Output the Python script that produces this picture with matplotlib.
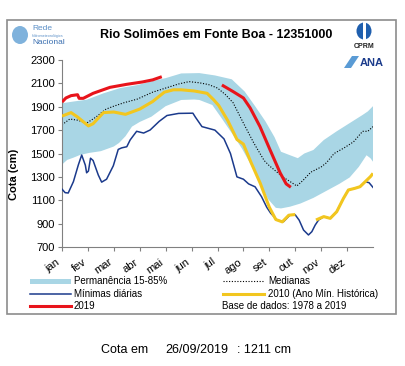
import numpy as np
import matplotlib
matplotlib.use("Agg")
import matplotlib.pyplot as plt
from matplotlib.patches import Rectangle, Ellipse, Polygon
from matplotlib.lines import Line2D

plt.rcParams['font.family'] = ['Liberation Sans', 'DejaVu Sans']

# ---------------- data (x in months since 1 Jan) ----------------
months = ['jan', 'fev', 'mar', 'abr', 'mai', 'jun', 'jul', 'ago', 'set', 'out', 'nov', 'dez']
yticks = [700, 900, 1100, 1300, 1500, 1700, 1900, 2100, 2300]

band_up_x = [0, 0.45, 0.95, 1.6, 2.25, 2.9, 3.5, 4.0, 4.6, 5.3, 5.9, 6.55, 7.05, 7.45,
             7.85, 8.2, 8.45, 8.8, 9.1, 9.35, 9.7, 10.1, 10.6, 11.1, 11.6, 11.8, 12.0]
band_up_y = [1930, 1945, 1960, 2015, 2060, 2085, 2120, 2145, 2185, 2188, 2168, 2135, 2030, 1905,
             1775, 1640, 1515, 1485, 1460, 1500, 1530, 1615, 1690, 1760, 1830, 1860, 1905]
band_lo_x = [0, 0.2, 0.45, 0.7, 1.05, 1.5, 2.0, 2.2, 2.45, 2.7, 3.0, 3.45, 4.0, 4.6, 5.1, 5.3,
             5.8, 6.15, 6.55, 6.95, 7.3, 7.7, 7.95, 8.25, 8.45, 8.8, 9.2, 9.7, 10.2, 10.7,
             11.1, 11.45, 11.75, 11.9, 12.0]
band_lo_y = [1405, 1445, 1465, 1488, 1505, 1520, 1560, 1590, 1648, 1730, 1770, 1815, 1905, 1958,
             1962, 1958, 1915, 1805, 1675, 1540, 1400, 1225, 1110, 1035, 1030, 1045, 1072, 1120,
             1180, 1240, 1295, 1385, 1485, 1460, 1430]

med_x = [0, 0.3, 0.6, 0.95, 1.3, 1.7, 2.0, 2.4, 2.9, 3.5, 4.0, 4.5, 4.9, 5.3, 5.65, 6.0, 6.3,
         6.6, 7.0, 7.4, 7.8, 8.0, 8.3, 8.55, 8.8, 9.06, 9.3, 9.6, 10.0, 10.2, 10.5, 10.9,
         11.25, 11.6, 11.8, 12.0]
med_y = [1745, 1795, 1785, 1760, 1810, 1880, 1905, 1935, 1965, 2025, 2060, 2095, 2115, 2105,
         2090, 2060, 2005, 1935, 1760, 1590, 1440, 1395, 1340, 1295, 1260, 1222, 1270, 1340,
         1385, 1420, 1500, 1550, 1600, 1690, 1690, 1730]

min_x = [0, 0.12, 0.24, 0.44, 0.63, 0.76, 0.9, 0.95, 1.02, 1.1, 1.2, 1.4, 1.53, 1.72, 1.98,
         2.17, 2.3, 2.5, 2.63, 2.88, 3.15, 3.4, 3.75, 4.05, 4.5, 5.05, 5.15, 5.4, 5.9, 6.25,
         6.5, 6.75, 7.0, 7.2, 7.45, 7.7, 7.9, 8.05, 8.3, 8.55, 8.8, 9.0, 9.15, 9.32, 9.51,
         9.64, 9.77, 9.9, 10.1, 10.35, 10.6, 10.86, 11.05, 11.3, 11.5, 11.7, 11.85, 12.0]
min_y = [1195, 1165, 1162, 1259, 1402, 1487, 1400, 1335, 1350, 1460, 1440, 1316, 1255, 1280,
         1395, 1535, 1548, 1558, 1616, 1690, 1675, 1701, 1775, 1825, 1843, 1845, 1810, 1730,
         1700, 1625, 1500, 1300, 1280, 1240, 1215, 1130, 1040, 990, 930, 917, 974, 975, 930,
         845, 803, 831, 888, 931, 960, 945, 1002, 1116, 1188, 1202, 1216, 1259, 1250, 1210]

y2010_x = [0, 0.35, 0.6, 1.02, 1.2, 1.6, 2.0, 2.45, 3.0, 3.5, 3.95, 4.3, 4.6, 5.1, 5.6, 5.85,
           6.05, 6.4, 6.75, 7.0, 7.3, 7.65, 8.0, 8.25, 8.5, 8.75, 9.0, np.nan, 9.8, 10.1,
           10.35, 10.6, 10.86, 11.05, 11.3, 11.5, 11.7, 11.9, 12.0]
y2010_y = [1820, 1850, 1812, 1736, 1755, 1850, 1855, 1835, 1880, 1945, 2025, 2045, 2045, 2035,
           2015, 1960, 1910, 1780, 1620, 1580, 1420, 1245, 1040, 935, 915, 972, 978, np.nan,
           931, 960, 945, 1002, 1116, 1188, 1202, 1216, 1259, 1302, 1330]

y2019_x = [0, 0.15, 0.35, 0.6, 0.66, 0.82, 1.2, 1.85, 2.5, 3.1, 3.5, 3.85, np.nan,
           6.17, 6.6, 7.0, 7.26, 7.64, 8.03, 8.42, 8.65, 8.83]
y2019_y = [1940, 1975, 1995, 2003, 1972, 1972, 2015, 2066, 2092, 2112, 2130, 2157, np.nan,
           2086, 2030, 1975, 1890, 1730, 1530, 1333, 1240, 1211]

# ---------------- figure ----------------
W, H = 405, 366
fig = plt.figure(figsize=(W / 100, H / 100), dpi=100)


def fx(px):
    return px / W


def fy(py):
    return 1 - py / H


ax = fig.add_axes([fx(62), fy(247), (373 - 62) / W, (247 - 60) / H])

band_color = '#a9d6e5'
ax.fill(np.concatenate([band_up_x, band_lo_x[::-1]]),
        np.concatenate([band_up_y, band_lo_y[::-1]]),
        color=band_color, lw=0, zorder=1)
ax.plot(med_x, med_y, color='black', lw=0.8, ls=(0, (1, 1.5)), zorder=2)
ax.plot(min_x, min_y, color='#1b3a8c', lw=1.1, zorder=3)
ax.plot(y2010_x, y2010_y, color='#f2c61f', lw=2.2, zorder=4, solid_capstyle='butt')
ax.plot(y2019_x, y2019_y, color='#e8141b', lw=2.2, zorder=5, solid_capstyle='butt')

ax.set_xlim(0, 12)
ax.set_ylim(700, 2300)
ax.set_yticks(yticks)
ax.set_yticklabels([str(v) for v in yticks], fontsize=8)
ax.set_xticks(range(12))
ax.set_xticklabels(months, fontsize=8, rotation=35, ha='right', va='top')
for s in ['top', 'right']:
    ax.spines[s].set_visible(False)
for s in ['left', 'bottom']:
    ax.spines[s].set_color('#808080')
    ax.spines[s].set_linewidth(0.8)
ax.tick_params(axis='both', length=3, width=0.8, color='#808080', pad=2)
ax.tick_params(axis='x', pad=4)
ax.set_ylabel('Cota (cm)', fontsize=8, fontweight='bold')
ax.yaxis.set_label_coords(-0.137, 0.39)

# frame
fig.add_artist(Rectangle((fx(7), fy(314)), (396 - 7) / W, (314 - 20) / H,
                         transform=fig.transFigure, fill=False,
                         edgecolor='#8c8c8c', lw=1.2))

# title
fig.text(fx(216), fy(35), 'Rio Solimões em Fonte Boa - 12351000',
         ha='center', va='center', fontsize=9, fontweight='bold')

# logos (approximated)
fig.add_artist(Ellipse((fx(20), fy(35)), 16 / W, 18 / H, transform=fig.transFigure,
                       color='#7fb2dc', lw=0))
fig.text(fx(32), fy(29), 'Rede', fontsize=6, color='#5b8fc7', va='center')
fig.text(fx(32), fy(35.5), 'Hidrometeorológica', fontsize=2.6, color='#5b8fc7', va='center')
fig.text(fx(32), fy(42), 'Nacional', fontsize=6, color='#3a6fb0', va='center')

fig.add_artist(Ellipse((fx(364), fy(31)), 15 / W, 17 / H, transform=fig.transFigure,
                       color='#1f5fae', lw=0))
fig.add_artist(Rectangle((fx(362.5), fy(40)), 3 / W, 18 / H, transform=fig.transFigure,
                         color='white', lw=0))
fig.text(fx(364), fy(46), 'CPRM', fontsize=5, fontweight='bold', ha='center', va='center',
         color='#222222')

fig.add_artist(Polygon([(fx(344), fy(68)), (fx(352), fy(56)), (fx(359), fy(56)),
                        (fx(351), fy(68))], closed=True, transform=fig.transFigure,
                       color='#5a9bd5', lw=0))
fig.text(fx(360), fy(62.5), 'ANA', fontsize=8, fontweight='bold', color='#1c3c8c',
         va='center')

# legend (manual)
rows = [281, 294, 306]
fig.add_artist(Rectangle((fx(30), fy(rows[0] + 2.5)), 41 / W, 5 / H,
                         transform=fig.transFigure, color=band_color, lw=0))
fig.add_artist(Line2D([fx(30), fx(71)], [fy(rows[1])] * 2, transform=fig.transFigure,
                      color='#1b3a8c', lw=1.1))
fig.add_artist(Line2D([fx(30), fx(71)], [fy(rows[2])] * 2, transform=fig.transFigure,
                      color='#e8141b', lw=2.2))
fig.add_artist(Line2D([fx(223), fx(264)], [fy(rows[0])] * 2, transform=fig.transFigure,
                      color='black', lw=0.8, ls=(0, (1, 1.5))))
fig.add_artist(Line2D([fx(223), fx(264)], [fy(rows[1])] * 2, transform=fig.transFigure,
                      color='#f2c61f', lw=2.2))
leg_fs = 7
fig.text(fx(74), fy(rows[0]), 'Permanência 15-85%', fontsize=leg_fs, va='center')
fig.text(fx(74), fy(rows[1]), 'Mínimas diárias', fontsize=leg_fs, va='center')
fig.text(fx(74), fy(rows[2]), '2019', fontsize=leg_fs, va='center')
fig.text(fx(268), fy(rows[0]), 'Medianas', fontsize=leg_fs, va='center')
fig.text(fx(268), fy(rows[1]), '2010 (Ano Mín. Histórica)', fontsize=leg_fs, va='center')
fig.text(fx(222), fy(rows[2]), 'Base de dados: 1978 a 2019', fontsize=leg_fs, va='center')

# bottom text
fig.text(fx(101), fy(350), 'Cota em', fontsize=9, va='center')
fig.text(fx(165), fy(350), '26/09/2019', fontsize=9, va='center')
fig.text(fx(237), fy(350), ': 1211 cm', fontsize=9, va='center')

fig.savefig('out.png', dpi=100)
